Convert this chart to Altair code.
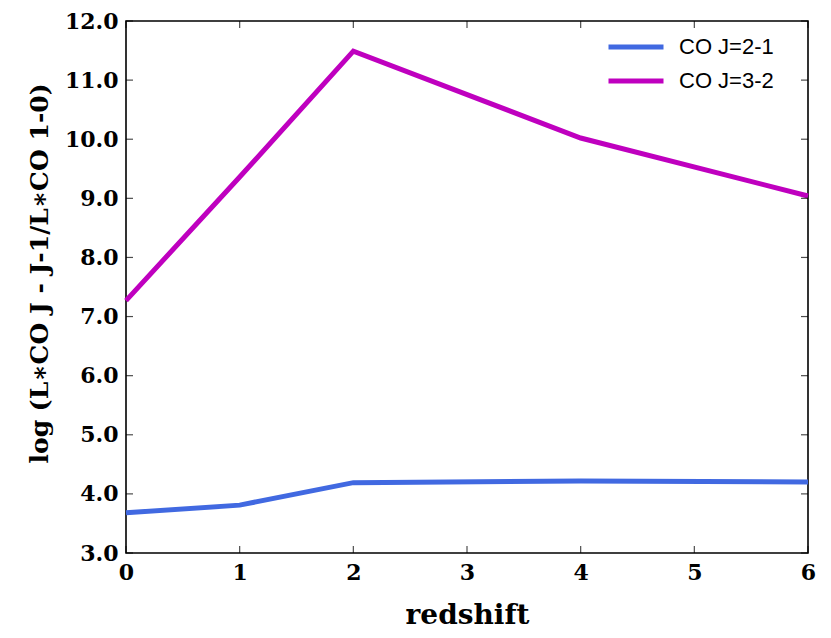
import altair as alt
import pandas as pd

redshift = [0, 1, 2, 4, 6]
co21 = [3.68, 3.81, 4.19, 4.22, 4.20]
co32 = [7.27, 9.36, 11.49, 10.02, 9.04]
series_names = ["CO J=2-1", "CO J=3-2"]
series_colors = ["#4169E1", "#BF00BF"]
x_ticks = [0, 1, 2, 3, 4, 5, 6]
y_ticks = [3.0, 4.0, 5.0, 6.0, 7.0, 8.0, 9.0, 10.0, 11.0, 12.0]

rows = []
for z, a, b in zip(redshift, co21, co32):
    rows.append({"z": z, "val": a, "series": series_names[0]})
    rows.append({"z": z, "val": b, "series": series_names[1]})
df = pd.DataFrame(rows)
dfx = pd.DataFrame({"t": x_ticks})
dfy = pd.DataFrame({"t": y_ticks})

SERIF = "DejaVu Serif"
xscale = alt.Scale(domain=[0, 6], nice=False, zero=False)
yscale = alt.Scale(domain=[3, 12], nice=False, zero=False)

lines = alt.Chart(df).mark_line(strokeWidth=5).encode(
    x=alt.X("z:Q", scale=xscale,
            axis=alt.Axis(values=x_ticks, format="d", title="redshift", ticks=False,
                          domain=False, grid=False, labelPadding=9, labelFlush=False,
                          labelFont=SERIF, labelFontWeight="bold", labelFontSize=22,
                          labelColor="black",
                          titleFont=SERIF, titleFontWeight="bold", titleFontSize=28,
                          titleColor="black", titleBaseline="alphabetic", titleY=70)),
    y=alt.Y("val:Q", scale=yscale,
            axis=alt.Axis(values=y_ticks, format=".1f",
                          title="log (L∗CO J - J-1/L∗CO 1-0)", ticks=False,
                          domain=False, grid=False, labelPadding=8, labelFlush=False,
                          labelFont=SERIF, labelFontWeight="bold", labelFontSize=22,
                          labelColor="black",
                          titleFont=SERIF, titleFontWeight="bold", titleFontSize=25,
                          titleColor="black", titleBaseline="alphabetic",
                          titleAngle=270, titleX=-79, titleY=252, titleAlign="center")),
    color=alt.Color("series:N",
                    scale=alt.Scale(domain=series_names, range=series_colors),
                    legend=alt.Legend(title=None, orient="none", legendX=480, legendY=15,
                                      symbolType="stroke", symbolSize=3025,
                                      symbolStrokeWidth=5, clipHeight=22, rowPadding=12,
                                      labelFont="Liberation Sans", labelFontSize=22,
                                      labelColor="black", labelOffset=13, padding=0)),
)

tick_color = "black"
bottom_t = alt.Chart(dfx).mark_tick(orient="vertical", size=7, thickness=1.2,
                                    color=tick_color, yOffset=-3.5).encode(
    x=alt.X("t:Q", scale=xscale), y=alt.datum(3.0, scale=yscale))
top_t = alt.Chart(dfx).mark_tick(orient="vertical", size=7, thickness=1.2,
                                 color=tick_color, yOffset=3.5).encode(
    x=alt.X("t:Q", scale=xscale), y=alt.datum(12.0, scale=yscale))
left_t = alt.Chart(dfy).mark_tick(orient="horizontal", size=7, thickness=1.2,
                                  color=tick_color, xOffset=3.5).encode(
    y=alt.Y("t:Q", scale=yscale), x=alt.datum(0, scale=xscale))
right_t = alt.Chart(dfy).mark_tick(orient="horizontal", size=7, thickness=1.2,
                                   color=tick_color, xOffset=-3.5).encode(
    y=alt.Y("t:Q", scale=yscale), x=alt.datum(6, scale=xscale))

chart = alt.layer(lines, bottom_t, top_t, left_t, right_t).properties(
    width=682, height=532,
    autosize=alt.AutoSizeParams(type="none"),
    padding={"left": 118, "top": 13, "right": 10, "bottom": 90},
    background="white",
).configure_view(stroke="black", strokeWidth=1.6)

chart.save("out.html", embed_options={"renderer": "svg", "actions": False})
